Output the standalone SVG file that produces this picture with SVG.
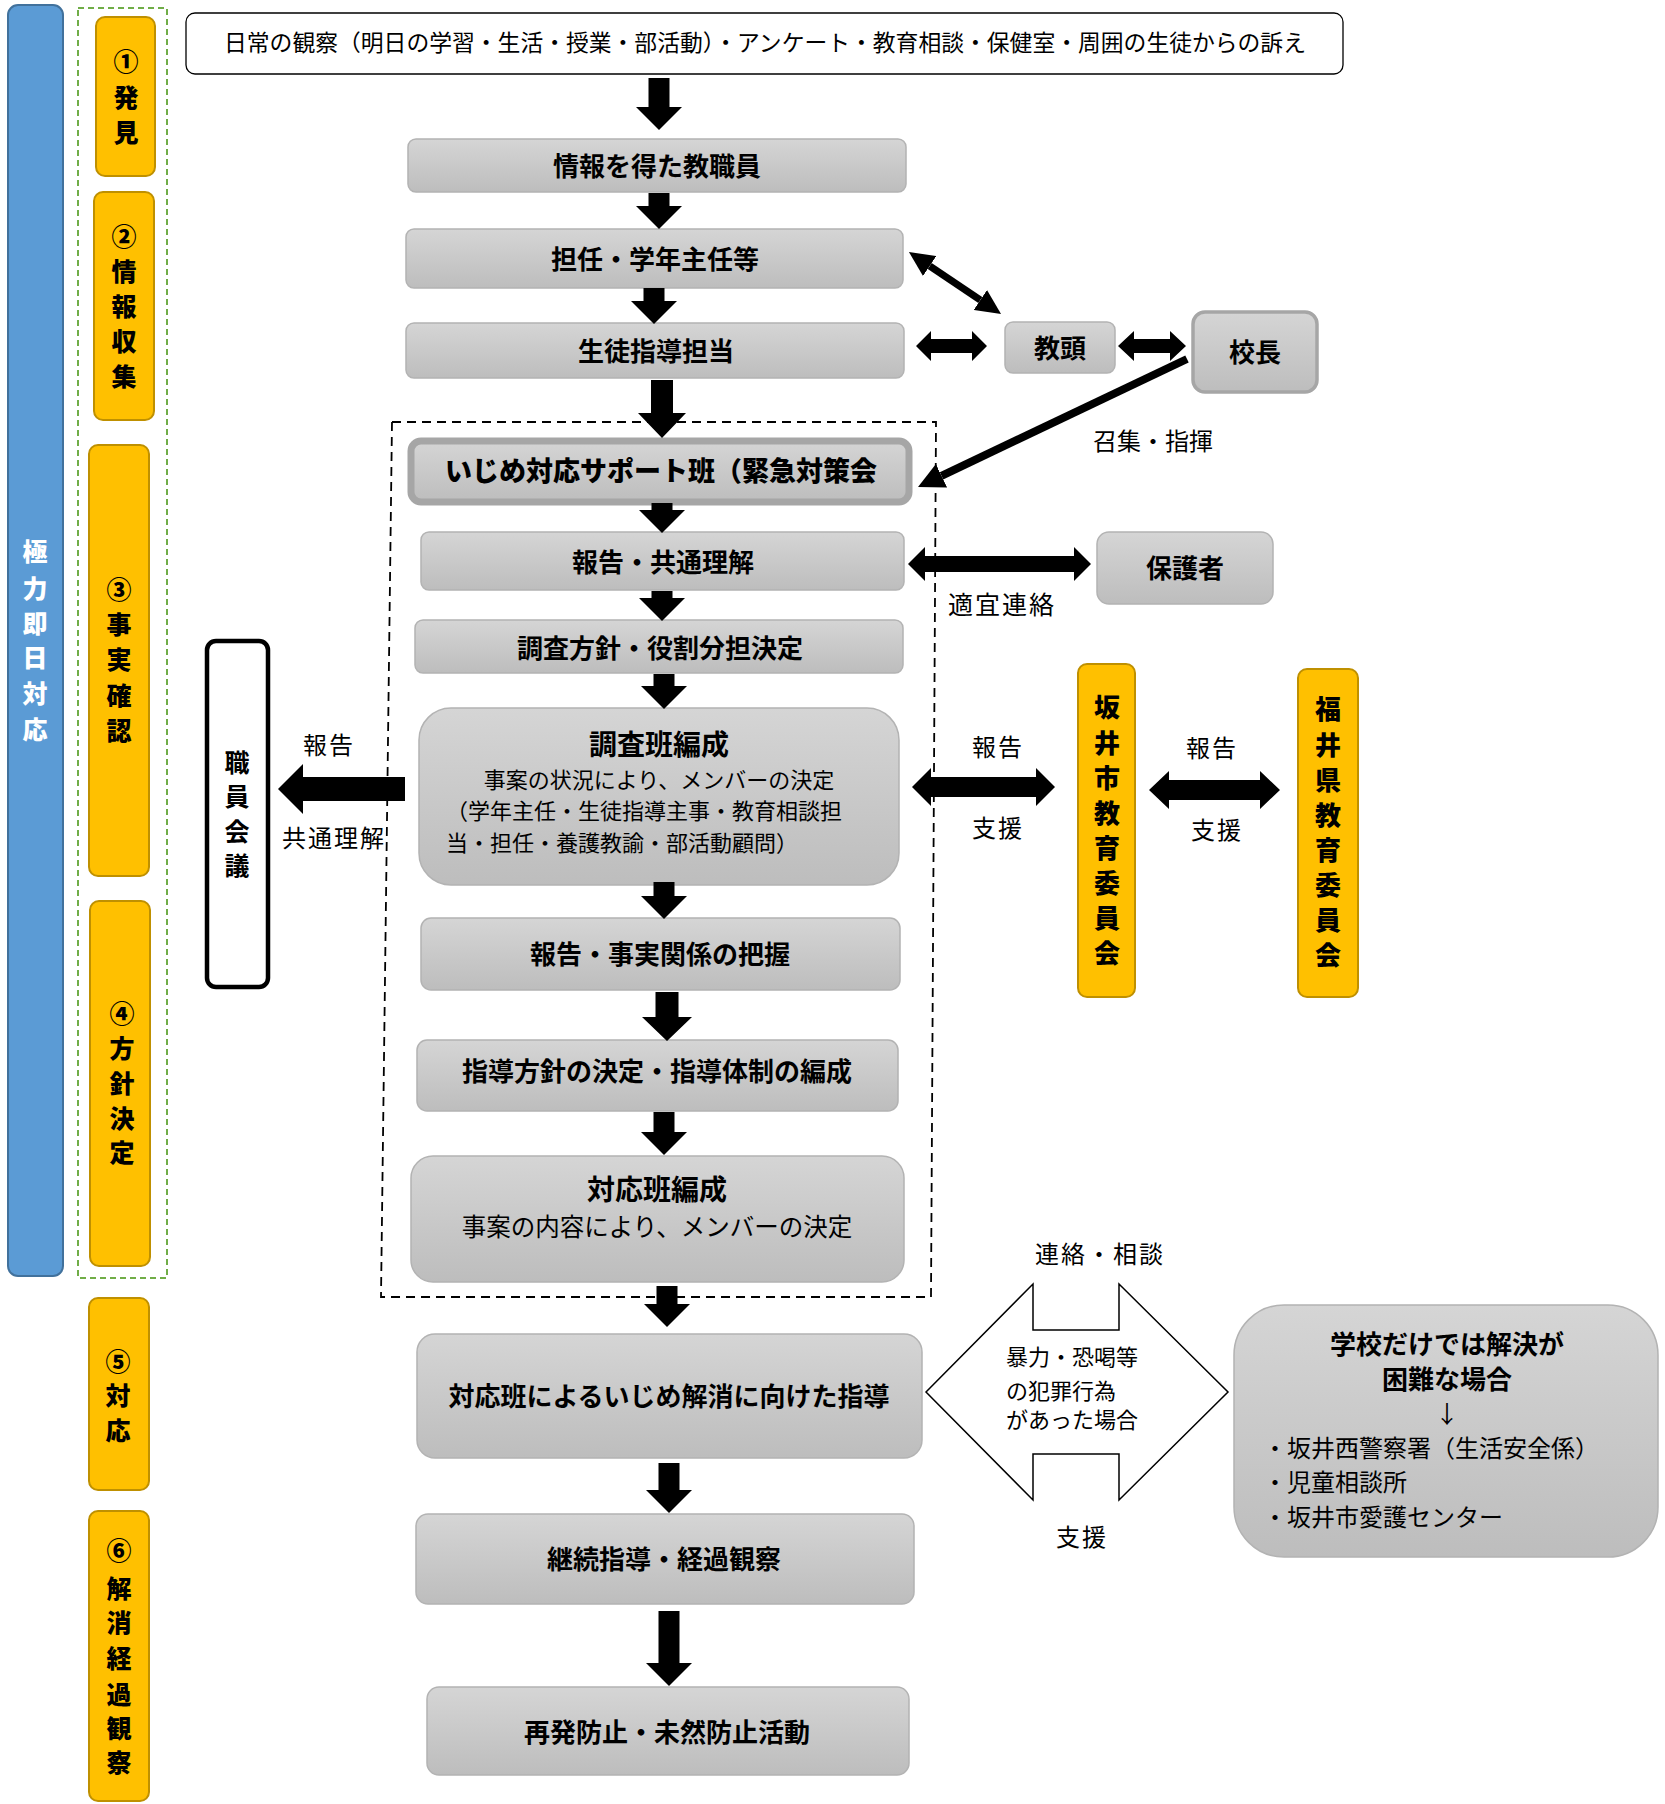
<svg xmlns="http://www.w3.org/2000/svg" width="1665" height="1804" viewBox="0 0 1665 1804">
<defs>
<linearGradient id="gg" x1="0" y1="0" x2="0" y2="1">
<stop offset="0" stop-color="#d5d5d5"/>
<stop offset="1" stop-color="#bdbdbd"/>
</linearGradient>
<marker id="ah" markerUnits="userSpaceOnUse" markerWidth="25" markerHeight="24" refX="0" refY="12" orient="auto-start-reverse" viewBox="0 0 25 24">
<path d="M0,0 L25,12 L0,24 Z" fill="#000"/>
</marker>
<marker id="ah2" markerUnits="userSpaceOnUse" markerWidth="26" markerHeight="26" refX="0" refY="13" orient="auto" viewBox="0 0 26 26">
<path d="M0,0 L26,13 L0,26 Z" fill="#000"/>
</marker>
<style>
text{font-family:"Noto Sans CJK JP","Noto Sans",sans-serif;fill:#000;dominant-baseline:central;transform:translate(0px,-2px)}
.g{fill:url(#gg);stroke:#b3b3b3;stroke-width:1.5}
.y{fill:#ffc000;stroke:#bf9000;stroke-width:2}
.b{font-weight:bold;font-size:26px;text-anchor:middle}
.h{font-weight:900;font-size:25px;text-anchor:middle}
.n{font-size:24px;text-anchor:middle;letter-spacing:2px}
.s{font-size:22px}
.arr{fill:#000}
</style>
</defs>

<g id="n-phase">
<rect x="8" y="5" width="55" height="1271" rx="10" fill="#5b9bd5" stroke="#41719c" stroke-width="2"/>
<text class="h" style="fill:#fff"><tspan x="35" y="552">極</tspan><tspan x="35" y="589">力</tspan><tspan x="35" y="624">即</tspan><tspan x="35" y="658">日</tspan><tspan x="35" y="694">対</tspan><tspan x="35" y="730">応</tspan></text>
</g>
<rect id="stage-frame" x="78" y="8" width="89" height="1270" fill="none" stroke="#70ad47" stroke-width="2" stroke-dasharray="6 4"/>

<g id="n-s1"><rect class="y" x="96" y="17" width="59" height="159" rx="9"/>
<text class="h"><tspan x="126" y="62">①</tspan><tspan x="126" y="98">発</tspan><tspan x="126" y="133">見</tspan></text></g>
<g id="n-s2"><rect class="y" x="94" y="192" width="60" height="228" rx="9"/>
<text class="h"><tspan x="124" y="237">②</tspan><tspan x="124" y="272">情</tspan><tspan x="124" y="307">報</tspan><tspan x="124" y="342">収</tspan><tspan x="124" y="377">集</tspan></text></g>
<g id="n-s3"><rect class="y" x="89" y="445" width="60" height="431" rx="9"/>
<text class="h"><tspan x="119" y="590">③</tspan><tspan x="119" y="625">事</tspan><tspan x="119" y="660">実</tspan><tspan x="119" y="696">確</tspan><tspan x="119" y="731">認</tspan></text></g>
<g id="n-s4"><rect class="y" x="90" y="901" width="60" height="365" rx="9"/>
<text class="h"><tspan x="122" y="1014">④</tspan><tspan x="122" y="1049">方</tspan><tspan x="122" y="1084">針</tspan><tspan x="122" y="1119">決</tspan><tspan x="122" y="1153">定</tspan></text></g>
<g id="n-s5"><rect class="y" x="89" y="1298" width="60" height="192" rx="9"/>
<text class="h"><tspan x="118" y="1362">⑤</tspan><tspan x="118" y="1396">対</tspan><tspan x="118" y="1431">応</tspan></text></g>
<g id="n-s6"><rect class="y" x="89" y="1511" width="60" height="290" rx="9"/>
<text class="h"><tspan x="119" y="1551">⑥</tspan><tspan x="119" y="1589">解</tspan><tspan x="119" y="1623">消</tspan><tspan x="119" y="1659">経</tspan><tspan x="119" y="1695">過</tspan><tspan x="119" y="1729">観</tspan><tspan x="119" y="1763">察</tspan></text></g>

<g id="n-source"><rect x="186" y="13" width="1157" height="61" rx="9" fill="#fff" stroke="#000" stroke-width="1.3"/>
<text x="765" y="43" style="font-size:22.8px;text-anchor:middle">日常の観察（明日の学習・生活・授業・部活動）・アンケート・教育相談・保健室・周囲の生徒からの訴え</text></g>

<path id="support-frame" d="M392,422 H936 L931,1297 H381 Z" fill="none" stroke="#000" stroke-width="1.8" stroke-dasharray="9 6"/>

<g id="n-info"><rect class="g" x="408" y="139" width="498" height="53" rx="8"/><text class="b" x="657" y="166">情報を得た教職員</text></g>
<g id="n-tannin"><rect class="g" x="406" y="229" width="497" height="59" rx="8"/><text class="b" x="655" y="259">担任・学年主任等</text></g>
<g id="n-seito"><rect class="g" x="406" y="323" width="498" height="55" rx="8"/><text class="b" x="656" y="351">生徒指導担当</text></g>
<g id="n-kyoto"><rect class="g" x="1005" y="322" width="110" height="51" rx="8"/><text class="b" x="1060" y="348">教頭</text></g>
<g id="n-kocho"><rect x="1193" y="312" width="124" height="80" rx="12" fill="url(#gg)" stroke="#a6a6a6" stroke-width="3.5"/><text class="b" x="1255" y="352">校長</text></g>
<g id="n-support"><rect x="411" y="441" width="498" height="61" rx="10" fill="url(#gg)" stroke="#a6a6a6" stroke-width="7"/><text x="661" y="471" style="font-weight:900;font-size:27px;text-anchor:middle">いじめ対応サポート班（緊急対策会</text></g>
<g id="n-hokoku"><rect class="g" x="421" y="532" width="483" height="58" rx="8"/><text class="b" x="663" y="562">報告・共通理解</text></g>
<g id="n-hogosha"><rect class="g" x="1097" y="532" width="176" height="72" rx="12"/><text class="b" x="1185" y="568">保護者</text></g>
<g id="n-chosa-hoshin"><rect class="g" x="415" y="620" width="488" height="53" rx="8"/><text class="b" x="660" y="648">調査方針・役割分担決定</text></g>
<g id="n-chosahan"><rect class="g" x="419" y="708" width="480" height="177" rx="32"/>
<text class="b" x="659" y="745" style="font-size:28px">調査班編成</text>
<text class="s" x="659" y="780" text-anchor="middle">事案の状況により、メンバーの決定</text>
<text class="s" x="446" y="811">（学年主任・生徒指導主事・教育相談担</text>
<text class="s" x="446" y="843">当・担任・養護教諭・部活動顧問）</text></g>
<g id="n-shokuin"><rect x="207" y="641" width="61" height="346" rx="9" fill="#fff" stroke="#000" stroke-width="4.5"/>
<text class="b" style="font-size:25px"><tspan x="237" y="763">職</tspan><tspan x="237" y="797">員</tspan><tspan x="237" y="832">会</tspan><tspan x="237" y="866">議</tspan></text></g>
<g id="n-sakai"><rect class="y" x="1078" y="664" width="57" height="333" rx="9"/>
<text class="h" style="font-size:26px"><tspan x="1107" y="707">坂</tspan><tspan x="1107" y="743">井</tspan><tspan x="1107" y="778">市</tspan><tspan x="1107" y="813">教</tspan><tspan x="1107" y="848">育</tspan><tspan x="1107" y="883">委</tspan><tspan x="1107" y="918">員</tspan><tspan x="1107" y="953">会</tspan></text></g>
<g id="n-fukui"><rect class="y" x="1298" y="669" width="60" height="328" rx="9"/>
<text class="h" style="font-size:26px"><tspan x="1328" y="709">福</tspan><tspan x="1328" y="745">井</tspan><tspan x="1328" y="780">県</tspan><tspan x="1328" y="815">教</tspan><tspan x="1328" y="850">育</tspan><tspan x="1328" y="885">委</tspan><tspan x="1328" y="920">員</tspan><tspan x="1328" y="955">会</tspan></text></g>
<g id="n-jijitsu"><rect class="g" x="421" y="918" width="479" height="72" rx="10"/><text class="b" x="660" y="954">報告・事実関係の把握</text></g>
<g id="n-shido-hoshin"><rect class="g" x="417" y="1040" width="481" height="71" rx="10"/><text class="b" x="657" y="1071">指導方針の決定・指導体制の編成</text></g>
<g id="n-taiouhan"><rect class="g" x="411" y="1156" width="493" height="126" rx="22"/>
<text class="b" x="657" y="1190" style="font-size:28px">対応班編成</text>
<text x="657" y="1227" style="font-size:24.5px;text-anchor:middle">事案の内容により、メンバーの決定</text></g>
<g id="n-shido"><rect class="g" x="417" y="1334" width="505" height="124" rx="18"/><text class="b" x="669" y="1396">対応班によるいじめ解消に向けた指導</text></g>
<g id="n-keizoku"><rect class="g" x="416" y="1514" width="498" height="90" rx="12"/><text class="b" x="664" y="1559">継続指導・経過観察</text></g>
<g id="n-saihatsu"><rect class="g" x="427" y="1687" width="482" height="88" rx="12"/><text class="b" x="667" y="1732">再発防止・未然防止活動</text></g>
<g id="n-external"><rect class="g" x="1234" y="1305" width="424" height="252" rx="50"/>
<text class="b" x="1447" y="1344">学校だけでは解決が</text>
<text class="b" x="1447" y="1379">困難な場合</text>
<text x="1447" y="1414" style="font-size:24px;text-anchor:middle">↓</text>
<text x="1263" y="1448" style="font-size:24px">・坂井西警察署（生活安全係）</text>
<text x="1263" y="1482" style="font-size:24px">・児童相談所</text>
<text x="1263" y="1517" style="font-size:24px">・坂井市愛護センター</text></g>

<g id="connectors">
<path class="arr" d="M648.5,78 H669.5 V107 H682 L659,130 L636,107 H648.5 Z"/>
<path class="arr" d="M648.5,193 H669.5 V206 H682 L659,229 L636,206 H648.5 Z"/>
<path class="arr" d="M643.5,288 H664.5 V301 H677 L654,324 L631,301 H643.5 Z"/>
<path class="arr" d="M651,380 H673 V413 H686 L662,438 L638,413 H651 Z"/>
<path class="arr" d="M651.5,503 H672.5 V510 H685 L662,533 L639,510 H651.5 Z"/>
<path class="arr" d="M651.5,591 H672.5 V598 H685 L662,621 L639,598 H651.5 Z"/>
<path class="arr" d="M653.5,674 H674.5 V686 H687 L664,709 L641,686 H653.5 Z"/>
<path class="arr" d="M653.5,882 H674.5 V896 H687 L664,919 L641,896 H653.5 Z"/>
<path class="arr" d="M655.5,992 H678.5 V1017 H692 L667,1041 L642,1017 H655.5 Z"/>
<path class="arr" d="M653.5,1112 H674.5 V1132 H687 L664,1155 L641,1132 H653.5 Z"/>
<path class="arr" d="M656.5,1286 H677.5 V1304 H690 L667,1327 L644,1304 H656.5 Z"/>
<path class="arr" d="M658.5,1463 H679.5 V1490 H692 L669,1513 L646,1490 H658.5 Z"/>
<path class="arr" d="M658.5,1611 H679.5 V1663 H692 L669,1686 L646,1663 H658.5 Z"/>

<line x1="929.7" y1="266" x2="980.3" y2="300" stroke="#000" stroke-width="7" marker-start="url(#ah)" marker-end="url(#ah)"/>
<path class="arr" d="M916,346 L931,331 V339 H972 V331 L987,346 L972,361 V353 H931 V361 Z"/>
<path class="arr" d="M1118,346 L1134,331 V339 H1170 V331 L1186,346 L1170,361 V353 H1134 V361 Z"/>
<line x1="1187" y1="359" x2="941.5" y2="475.8" stroke="#000" stroke-width="8" marker-end="url(#ah2)"/>
<text x="1153" y="441" style="font-size:24px;text-anchor:middle">召集・指揮</text>

<path class="arr" d="M908,564 L925,547 V556 H1074 V547 L1091,564 L1074,581 V572 H925 V581 Z"/>
<text class="n" x="1002" y="605" style="font-size:25px">適宜連絡</text>

<path class="arr" d="M912,787 L931,768 V777 H1036 V768 L1055,787 L1036,806 V797 H931 V806 Z"/>
<text class="n" x="998" y="747">報告</text>
<text class="n" x="998" y="828">支援</text>
<path class="arr" d="M1149,790 L1169,771 V780 H1260 V771 L1280,790 L1260,809 V800 H1169 V809 Z"/>
<text class="n" x="1212" y="748">報告</text>
<text class="n" x="1217" y="830">支援</text>

<path class="arr" d="M278,789 L303,764 V777 H405 V801 H303 V814 Z"/>
<text class="n" x="329" y="745">報告</text>
<text class="n" x="334" y="838">共通理解</text>

<path d="M926,1392 L1033,1284 V1330 H1119 V1284 L1228,1392 L1119,1500 V1454 H1033 V1500 Z" fill="#fff" stroke="#000" stroke-width="1.5"/>
<text x="1006" y="1357" style="font-size:22px">暴力・恐喝等</text>
<text x="1006" y="1391" style="font-size:22px">の犯罪行為</text>
<text x="1006" y="1420" style="font-size:22px">があった場合</text>
<text class="n" x="1100" y="1254">連絡・相談</text>
<text class="n" x="1082" y="1537">支援</text>
</g>
</svg>
